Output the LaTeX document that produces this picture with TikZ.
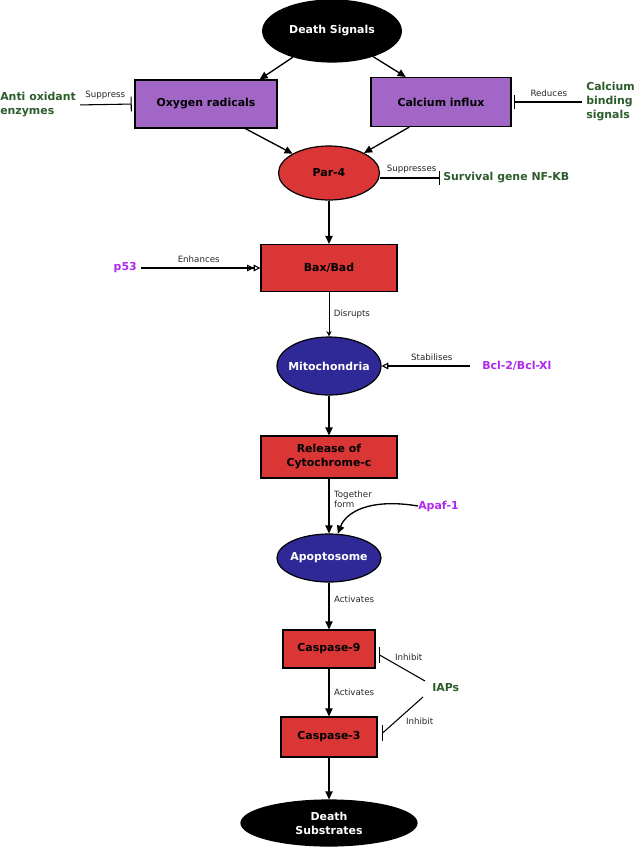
\documentclass[tikz,border=0pt]{standalone}
\usepackage{fontspec}
\setmainfont{DejaVu Sans}
\usetikzlibrary{shapes.geometric,arrows.meta,calc}
\definecolor{boxpurple}{RGB}{161,102,198}
\definecolor{boxred}{RGB}{218,54,54}
\definecolor{ovalblue}{RGB}{46,41,150}
\definecolor{txtgreen}{RGB}{44,92,44}
\definecolor{txtpurple}{RGB}{176,40,238}

\begin{document}
\begin{tikzpicture}[x=0.75pt,y=-0.75pt,
  every node/.style={font=\bfseries\fontsize{8.2}{10.5}\selectfont, align=center},
  oval/.style={ellipse, draw=black, line width=0.9pt, inner xsep=-3pt},
  box/.style={rectangle, draw=black, line width=0.9pt, inner sep=0pt},
  side/.style={inner sep=0pt, align=left},
  small/.style={font=\fontsize{6.5}{8}\selectfont, text=black!85},
  flow/.style={-{Triangle[length=6pt,width=5.5pt]}, line width=1pt},
  block/.style={-{Bar[width=11pt]}, line width=0.8pt}]
\useasboundingbox (0,0) rectangle (640,847);

\node[oval, fill=black, text=white, minimum width=104pt, minimum height=46.5pt] (ds) at (332,31) {Death Signals};
\node[box, fill=boxpurple, minimum width=106.5pt, minimum height=36pt] (oxy) at (206,104) {Oxygen radicals};
\node[box, fill=boxpurple, minimum width=105pt, minimum height=36.75pt] (cal) at (441,102) {Calcium influx};
\node[oval, fill=boxred, minimum width=75.75pt, minimum height=40.5pt] (par) at (329,173) {Par-4};
\node[box, fill=boxred, minimum width=102pt, minimum height=35.25pt] (bax) at (329,268) {Bax/Bad};
\node[oval, fill=ovalblue, text=white, minimum width=78pt, minimum height=43.5pt] (mito) at (329,366) {Mitochondria};
\node[box, fill=boxred, minimum width=102pt, minimum height=31.5pt] (cyt) at (329,457) {Release of\\Cytochrome-c};
\node[oval, fill=ovalblue, text=white, minimum width=78pt, minimum height=36pt] (apo) at (329,558) {Apoptosome};
\node[box, fill=boxred, minimum width=69pt, minimum height=28.5pt] (c9) at (329,649) {Caspase-9};
\node[box, fill=boxred, minimum width=72pt, minimum height=30pt] (c3) at (329,737) {Caspase-3};
\node[oval, fill=black, text=white, minimum width=132pt, minimum height=34.5pt] (sub) at (329,823) {Death\\Substrates};

\node[side, text=txtgreen, anchor=west] (anti) at (0,105) {Anti oxidant\\enzymes};
\node[side, text=txtgreen, anchor=west] (cbs) at (586,102) {Calcium\\binding\\signals};
\node[side, text=txtgreen, anchor=west] (surv) at (443,178) {Survival gene NF-KB};
\node[side, text=txtpurple, anchor=east] (p53) at (137,268) {p53};
\node[side, text=txtpurple, anchor=west] (bcl) at (482,366) {Bcl-2/Bcl-Xl};
\node[side, text=txtpurple, anchor=west] (apaf) at (418,506) {Apaf-1};
\node[side, text=txtgreen, anchor=west] (iaps) at (432,688) {IAPs};

\coordinate (c9bar) at ($(c9.east)+(4,6)$);
\coordinate (c3bar) at ($(c3.east)+(5,-4)$);

\draw[flow] (ds) -- ($(oxy.north)!0.75!(oxy.north east)$);
\draw[flow] (ds) -- ($(cal.north)!0.5!(cal.north west)$);
\draw[flow] ($(oxy.south)!0.55!(oxy.south east)$) -- (par);
\draw[flow] ($(cal.south)!0.45!(cal.south west)$) -- (par);
\draw[flow] (par) -- (bax);
\draw[-{Stealth[length=4pt,width=4pt]}, line width=0.7pt] (bax) -- node[right, small]{Disrupts} (mito);
\draw[flow] (mito) -- (cyt);
\draw[flow] (cyt) -- node[pos=0.38, right, small, align=left]{Together\\form} (apo);
\draw[flow] (apaf.west) .. controls (370,498) and (346,512) .. (apo.70);
\draw[flow] (apo) -- node[pos=0.35, right, small]{Activates} (c9);
\draw[flow] (c9) -- node[right, small]{Activates} (c3);
\draw[flow] (c3) -- (sub);

\draw[block, shorten >=2pt, shorten <=3pt] (anti.east) -- node[above, small]{Suppress} (oxy.west);
\draw[block, shorten >=2pt, shorten <=3pt] (cbs.west) -- node[above, small]{Reduces} (cal.east);
\draw[block, shorten >=2pt] (par.east |- surv.west) -- node[above, small]{Suppresses} (surv.west);
\draw[-{Triangle[open,length=5pt,width=5pt] Triangle[open,length=5pt,width=5pt]}, line width=0.8pt, shorten <=3pt] (p53.east) -- node[above, small]{Enhances} (bax.west);
\draw[-{Triangle[open,length=5pt,width=5pt]}, line width=0.8pt, shorten <=9pt] (bcl.west) -- node[above, small]{Stabilises} (mito.east);

\draw[line width=0.8pt] ($(iaps.west)+(-7,-7)$) -- node[pos=0.7, anchor=south west, small, inner sep=1pt]{Inhibit} (c9bar);
\draw[line width=1pt] ([yshift=6pt]c9bar) -- ([yshift=-6pt]c9bar);
\draw[line width=0.8pt] ($(iaps.west)+(-9,9)$) -- node[pos=0.5, anchor=north west, small, inner sep=2pt]{Inhibit} (c3bar);
\draw[line width=1pt] ([yshift=6pt]c3bar) -- ([yshift=-6pt]c3bar);
\end{tikzpicture}
\end{document}
